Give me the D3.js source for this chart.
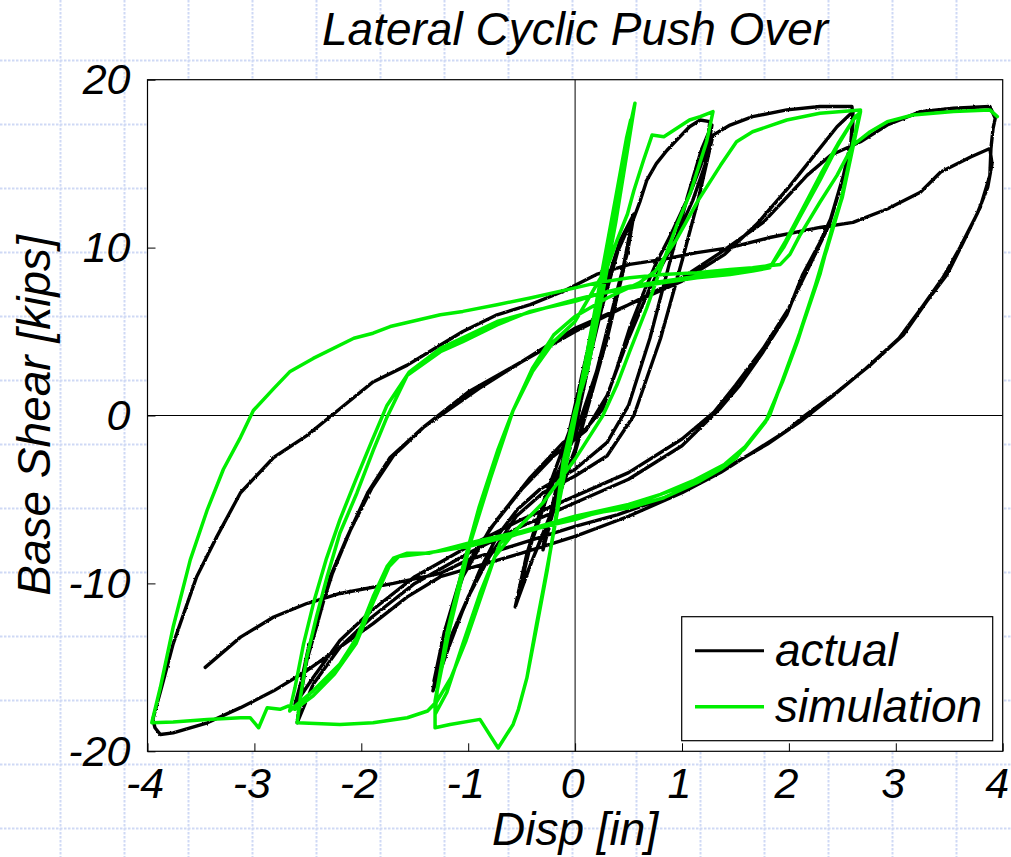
<!DOCTYPE html>
<html>
<head>
<meta charset="utf-8">
<script src="https://cdn.jsdelivr.net/npm/d3@7"></script>
<style>
  html, body { margin: 0; padding: 0; background: #fff; }
  svg { display: block; }
  text { font-family: "Liberation Sans", Arial, sans-serif; font-style: italic; fill: #000; }
</style>
</head>
<body>
<svg id="chart" width="1011" height="857"></svg>
<script>
// ---- data -------------------------------------------------------------
const xTicks = [-4, -3, -2, -1, 0, 1, 2, 3, 4];
const yTicks = [-20, -10, 0, 10, 20];
const seriesNames = ["actual", "simulation"];

// measured response: [displacement (in), base shear (kips)]
const actualPath = [
  [0,0],[0.1,3],[0.2,6],[0.3,8.8],[0.2,5.8],[0.1,2.6],[0,-0.3],[-0.1,-3],[-0.2,-5.6],[-0.3,-8],
  [-0.2,-5],[-0.1,-2.2],[0,0.6],[0.1,3.4],[0.2,6.3],[0.3,8.8],[0.2,5.4],[0.1,2.2],[0,-0.8],[-0.15,-4.2],[-0.3,-7.8],
  [-0.15,-3.6],[0,0.4],[0.15,4.4],[0.3,8],[0.42,10.4],[0.55,12],
  [0.45,8.6],[0.3,4.6],[0.15,1.2],[0,-2],[-0.15,-4.6],[-0.3,-7],[-0.45,-9.4],[-0.56,-11.4],
  [-0.45,-8.2],[-0.3,-5.2],[-0.15,-2.6],[0,0],[0.12,3],[0.25,6.4],[0.4,9.8],[0.54,11.8],
  [0.45,8.8],[0.3,4.8],[0.15,1.2],[0,-2.2],[-0.2,-5.6],[-0.4,-8.6],[-0.55,-11.2],
  [-0.42,-7.8],[-0.25,-4.6],[0,-1.2],[0.2,2.6],[0.42,8.1],[0.49,9.7],[0.54,11.6],[0.61,12.8],[0.67,14],[0.76,15],[0.86,15.8],[0.95,16.4],[1.07,17.2],[1.17,17.6],[1.26,17.5],
  [1.24,16.3],[1.2,15.3],[1.08,13.3],[0.89,10.7],[0.76,9.1],[0.64,7.3],[0.51,5.2],[0.39,2.8],[0.26,0.4],[0.1,-0.8],[-0.11,-1.6],[-0.42,-3.7],[-0.73,-6.2],[-1.05,-9.2],[-1.2,-12.4],[-1.33,-16.4],
  [-1.17,-13.6],[-1.05,-11.6],[-0.89,-9.2],[-0.73,-7.2],[-0.54,-5.6],[-0.33,-4.4],[0,-3.2],[0.3,-1.6],[0.5,0.6],[0.7,4.6],[0.88,9],[1.05,13],[1.18,15.8],[1.28,17.3],
  [1.22,15],[1.1,12.8],[0.9,10],[0.7,7.6],[0.5,4.6],[0.3,1.2],[0.1,-0.9],[-0.2,-2.4],[-0.5,-4.4],[-0.8,-6.8],[-1.05,-9.6],[-1.22,-12.8],[-1.32,-15.8],
  [-1.15,-13],[-1,-10.8],[-0.8,-8.4],[-0.55,-6],[-0.3,-4.6],[0,-3.6],[0.3,-2.4],[0.55,0],[0.8,4.6],[1,9.2],[1.15,12.8],[1.29,16.7],[1.45,17.3],[1.66,17.8],[1.98,18.2],[2.29,18.4],[2.59,18.4],
  [2.6,17.7],[2.59,16.3],[2.51,14.3],[2.39,11.7],[2.29,10.3],[2.13,8.4],[1.98,6],[1.76,3.8],[1.54,1.8],[1.36,0.45],[1,-1.8],[0.5,-3.8],[0,-5.2],[-0.5,-6.6],[-1,-8.2],[-1.5,-10],[-1.9,-12],[-2.2,-13.8],[-2.45,-16],[-2.6,-18.3],
  [-2.57,-16.8],[-2.51,-14.6],[-2.42,-12.6],[-2.29,-9.6],[-2.13,-7.2],[-1.94,-4.6],[-1.73,-2.5],[-1.42,-0.7],[-1.26,0],[-0.9,1.6],[-0.5,3.2],[0,5.2],[0.5,6.6],[1,8],[1.4,9.6],[1.7,11.4],[2,13.6],[2.25,15.6],[2.45,17.2],[2.6,18.1],
  [2.58,16.3],[2.5,14],[2.38,11.4],[2.2,9],[2,6.4],[1.76,4],[1.5,1.8],[1.3,0.2],[1,-1.4],[0.5,-3.4],[0,-4.8],[-0.5,-6.2],[-1,-7.8],[-1.5,-9.6],[-1.9,-11.6],[-2.2,-13.4],[-2.45,-15.6],[-2.62,-17.2],
  [-2.56,-15.8],[-2.5,-14],[-2.4,-12],[-2.27,-9.4],[-2.1,-6.8],[-1.9,-4.3],[-1.7,-2.4],[-1.4,-0.6],[-1,1.4],[-0.5,3.2],[0,5],[0.5,6.6],[1,8.2],[1.36,9.7],[1.76,11.5],[1.98,13],[2.17,14.3],[2.39,15.5],[2.67,16.3],[2.92,17.3],[3.23,18.1],[3.54,18.3],[3.88,18.4],
  [3.93,17.7],[3.91,17.1],[3.89,15.9],[3.88,14.3],[3.79,12.4],[3.63,10.3],[3.48,8.4],[3.29,6.8],[3.07,4.8],[2.76,3],[2.45,1.4],[2.13,-0.1],[1.98,-0.9],[1.66,-2.2],[1.36,-3.4],[1,-4.6],[0.5,-6],[0,-7.2],[-0.5,-8.2],[-1.26,-9.6],[-1.57,-10.8],[-1.89,-12.4],[-2.2,-13.8],[-2.51,-15.2],[-2.82,-16.4],[-3.13,-17.4],[-3.44,-18.3],[-3.76,-18.9],[-3.88,-19],[-3.93,-18.6],[-3.95,-18.1],
  [-3.86,-16],[-3.76,-13.6],[-3.54,-9.6],[-3.35,-7.2],[-3.13,-4.6],[-2.82,-2.5],[-2.51,-1.2],[-2.2,0.4],[-1.89,2],[-1.57,3],[-1.26,4.2],[-1.05,5],[-0.73,6],[-0.42,6.6],[-0.11,7.4],[0.2,8.4],[0.51,9],[0.82,9.3],[1.14,9.7],[1.45,10],[1.82,10.6],[2.29,11.2],[2.6,11.5],[2.92,12.3],[3.23,13.3],[3.42,14.5],[3.7,15.4],[3.88,15.9],
  [3.9,15],[3.86,13.6],[3.76,12],[3.6,10],[3.44,8.2],[3.25,6.5],[3.03,4.6],[2.72,2.8],[2.4,1.1],[2.1,-0.4],[1.8,-1.7],[1.5,-2.8],[1.2,-3.9],[0.8,-5],[0.4,-5.9],[0,-6.6],[-0.5,-7.6],[-1,-8.6],[-1.26,-9.4],[-1.7,-10],[-2.2,-10.6],[-2.51,-11.2],[-2.82,-12],[-3.13,-13.2],[-3.46,-15]
];

// numerical model response: [displacement (in), base shear (kips)]
const simulationPath = [
  [0,0],[0.12,4],[0.25,8.5],[0.38,13],[0.48,16.5],[0.52,17.6],
  [0.42,14],[0.28,9],[0.14,4.2],[0,-0.2],[-0.12,-4],[-0.24,-8.4],[-0.36,-12.4],[-0.45,-15.6],
  [-0.3,-10.4],[-0.15,-5.2],[0,-0.2],[0.15,5],[0.3,10.2],[0.45,15.4],[0.56,18.6],
  [0.5,16.2],[0.38,11.5],[0.25,7],[0.12,2.8],[0,0.3],[-0.11,-2.7],[-0.17,-5.6],[-0.26,-9.2],[-0.36,-12.6],[-0.45,-15.6],[-0.53,-17.5],[-0.58,-18.4],[-0.72,-19.8],[-0.89,-18.1],[-1.17,-18.4],[-1.31,-18.6],
  [-1.31,-17],[-1.2,-13],[-1.05,-9],[-0.9,-5.5],[-0.72,-2],[-0.58,0.3],[-0.4,2.6],[-0.2,4.4],[0,5.6],[0.23,8.1],[0.3,8.8],[0.39,10.4],[0.49,12],[0.55,13.4],[0.64,15.2],[0.72,16.7],[0.83,16.6],[1.07,17.6],[1.17,17.8],[1.29,18.1],
  [1.23,16.3],[1.08,13.3],[0.95,11.3],[0.82,9.1],[0.67,6.4],[0.51,3.8],[0.39,1.8],[0.26,0],[0,-2.6],[-0.3,-5.2],[-0.55,-6.8],[-0.7,-7.6],[-0.89,-10.6],[-1.05,-13.6],[-1.2,-16.5],[-1.31,-17.8],
  [-1.29,-16.4],[-1.17,-12.6],[-0.98,-7.6],[-0.79,-3.7],[-0.58,0.3],[-0.4,2.8],[-0.2,4.8],[0,5.9],[0.3,7],[0.6,7.9],[0.75,8.6],[0.95,10.5],[1.15,12.8],[1.36,14.9],[1.51,16.3],[1.66,16.9],[1.98,17.6],[2.29,18],[2.67,18.2],
  [2.6,16.3],[2.51,13.3],[2.41,11.3],[2.29,8.4],[2.13,5.4],[1.98,2.8],[1.82,0],[1.66,-1.3],[1.51,-2.5],[1.36,-3.2],[1.14,-4],[0.83,-4.9],[0.51,-5.5],[0.2,-5.8],[0,-6.2],[-0.42,-6.8],[-0.6,-7.2],[-0.75,-8.4],[-0.88,-10.8],[-1.02,-13.4],[-1.16,-15.6],[-1.29,-17],[-1.38,-17.6],[-1.57,-18],[-1.89,-18.3],[-2.2,-18.4],[-2.6,-18.3],
  [-2.57,-16.8],[-2.51,-14.4],[-2.42,-12],[-2.32,-9.6],[-2.2,-7],[-2.04,-4.6],[-1.89,-2.1],[-1.76,-0.1],[-1.57,2.4],[-1.26,3.8],[-1.05,4.4],[-0.73,5.4],[-0.42,6.2],[0,6.8],[0.2,7.2],[0.51,7.6],[0.82,7.9],[1.14,8.2],[1.45,8.4],[1.66,8.6],[1.82,8.8],[1.95,10],[2.1,11.8],[2.29,14],[2.45,16],[2.6,17.6],[2.67,18.1],
  [2.6,16],[2.5,13],[2.38,10.6],[2.25,7.8],[2.1,4.9],[1.96,2.4],[1.8,-0.2],[1.6,-1.8],[1.4,-2.9],[1.1,-3.9],[0.8,-4.7],[0.5,-5.3],[0,-6],[-0.5,-6.9],[-1,-7.6],[-1.36,-8.2],[-1.57,-8.2],[-1.7,-8.5],[-1.76,-9],[-1.89,-10.8],[-2.04,-13.2],[-2.2,-14.8],[-2.45,-16.4],[-2.6,-17.2],[-2.67,-17.6],
  [-2.62,-16.2],[-2.54,-13.6],[-2.44,-11],[-2.33,-8.6],[-2.2,-6.2],[-2.05,-3.8],[-1.9,-1.5],[-1.76,0.6],[-1.55,2.6],[-1.26,4],[-0.73,5.6],[0,6.9],[0.51,7.7],[1.14,8.3],[1.66,8.7],[1.84,9],[1.97,10.4],[2.12,12.2],[2.3,14.4],[2.46,16.2],[2.62,17.8],[2.66,18],
  [2.58,15.6],[2.48,12.6],[2.36,10],[2.22,7.2],[2.08,4.4],[1.94,2],[1.78,-0.4],[1.58,-2],[1.36,-3.1],[1.1,-4],[0.5,-5.4],[0,-6.1],[-0.5,-7],[-1,-7.8],[-1.4,-8.2],[-1.65,-8.4],[-1.74,-9],[-1.88,-11],[-2.05,-13.6],[-2.25,-15.4],[-2.45,-16.7],[-2.62,-17.5],
  [-2.68,-17.3],[-2.76,-17.5],[-2.88,-17.4],[-2.96,-18.6],[-3.04,-18],[-3.13,-18],[-3.44,-18.1],[-3.76,-18.25],[-3.96,-18.3],
  [-3.88,-16.2],[-3.76,-12.6],[-3.6,-8.6],[-3.44,-5.6],[-3.29,-3.2],[-3.13,-1.3],[-3.01,0.3],[-2.82,1.6],[-2.67,2.6],[-2.45,3.4],[-2.07,4.6],[-1.89,4.9],[-1.73,5.3],[-1.26,6],[-1.05,6.2],[-0.73,6.6],[-0.42,7],[0,7.6],[0.2,7.9],[0.51,8.2],[0.82,8.4],[1.14,8.5],[1.45,8.7],[1.66,8.8],[1.92,9],[2.01,9.6],[2.1,10.7],[2.29,12.7],[2.45,14.3],[2.6,16.1],[2.76,16.9],[2.92,17.5],[3.16,17.9],[3.54,18.1],[3.88,18.2],[3.95,17.8]
];

// ---- layout -----------------------------------------------------------
const W = 1011, H = 857;
const plot = { left: 147.5, right: 1002.7, top: 79.7, bottom: 751.3 };

const svg = d3.select("#chart");

const x = d3.scaleLinear().domain([-4, 4]).range([plot.left, plot.right]);
const y = d3.scaleLinear().domain([-20, 20]).range([plot.bottom, plot.top]);

// slight roughness for the measured trace
const defs = svg.append("defs");
const rough = defs.append("filter").attr("id", "rough")
  .attr("x", "-5%").attr("y", "-5%").attr("width", "110%").attr("height", "110%");
rough.append("feTurbulence").attr("type", "fractalNoise")
  .attr("baseFrequency", 0.45).attr("numOctaves", 1).attr("seed", 3).attr("result", "noise");
rough.append("feDisplacementMap").attr("in", "SourceGraphic").attr("in2", "noise")
  .attr("scale", 2.4).attr("xChannelSelector", "R").attr("yChannelSelector", "G");

// page background: light blue dotted graph-paper grid
const paper = svg.append("g").attr("class", "paper");
paper.append("rect").attr("width", W).attr("height", H).attr("fill", "#fff");
const gridStep = 64, gridStart = 60.5;
const gxs = d3.range(gridStart, W, gridStep);
const gys = d3.range(gridStart, H, gridStep);
paper.selectAll("line.gv").data(gxs).join("line")
  .attr("x1", d => d).attr("x2", d => d).attr("y1", 0).attr("y2", H)
  .attr("stroke", "#cfd9f5").attr("stroke-width", 2).attr("stroke-dasharray", "2.5,1.5");
paper.selectAll("line.gh").data(gys).join("line")
  .attr("x1", 0).attr("x2", W).attr("y1", d => d).attr("y2", d => d)
  .attr("stroke", "#cfd9f5").attr("stroke-width", 2).attr("stroke-dasharray", "2.5,1.5");

// plot area
svg.append("rect")
  .attr("x", plot.left).attr("y", plot.top)
  .attr("width", plot.right - plot.left).attr("height", plot.bottom - plot.top)
  .attr("fill", "#fff");

// zero lines
svg.append("line")
  .attr("x1", x(0)).attr("x2", x(0)).attr("y1", plot.top).attr("y2", plot.bottom)
  .attr("stroke", "#000").attr("stroke-width", 1);
svg.append("line")
  .attr("x1", plot.left).attr("x2", plot.right).attr("y1", y(0)).attr("y2", y(0))
  .attr("stroke", "#000").attr("stroke-width", 1);

// curves
const line = d3.line().x(d => x(d[0])).y(d => y(d[1]));
defs.append("clipPath").attr("id", "plotClip").append("rect")
  .attr("x", plot.left).attr("y", plot.top)
  .attr("width", plot.right - plot.left).attr("height", plot.bottom - plot.top);

const curves = svg.append("g").attr("clip-path", "url(#plotClip)");
curves.append("path").datum(actualPath)
  .attr("d", line).attr("fill", "none")
  .attr("stroke", "#000").attr("stroke-width", 3.4)
  .attr("stroke-linejoin", "round").attr("stroke-linecap", "round")
  .attr("filter", "url(#rough)");
curves.append("path").datum(simulationPath)
  .attr("d", line).attr("fill", "none")
  .attr("stroke", "#00ee00").attr("stroke-width", 3.5)
  .attr("stroke-linejoin", "round").attr("stroke-linecap", "round");

// axes (ticks point inward)
const fmt = d => String(d);
const xAxis = svg.append("g").attr("transform", `translate(0,${plot.bottom})`)
  .call(d3.axisBottom(x).tickValues(xTicks).tickFormat(fmt).tickSize(-8).tickPadding(16));
const yAxis = svg.append("g").attr("transform", `translate(${plot.left},0)`)
  .call(d3.axisLeft(y).tickValues(yTicks).tickFormat(fmt).tickSize(-8).tickPadding(17));
[xAxis, yAxis].forEach(g => {
  g.select(".domain").remove();
  g.selectAll(".tick line").attr("stroke", "#000").attr("stroke-width", 1);
  g.selectAll(".tick text")
    .attr("font-family", "Liberation Sans, Arial, sans-serif")
    .attr("font-style", "italic").attr("font-size", 43).attr("fill", "#000");
});
// last x label kept inside the page
xAxis.selectAll(".tick text").filter(d => d === 4).attr("text-anchor", "end").attr("x", 9);
xAxis.selectAll(".tick text").attr("dx", -3);

// frame
svg.append("rect")
  .attr("x", plot.left).attr("y", plot.top)
  .attr("width", plot.right - plot.left).attr("height", plot.bottom - plot.top)
  .attr("fill", "none").attr("stroke", "#000").attr("stroke-width", 1.2);

// titles
svg.append("text").attr("x", (plot.left + plot.right) / 2).attr("y", 45)
  .attr("text-anchor", "middle").attr("font-size", 46).text("Lateral Cyclic Push Over");
svg.append("text").attr("x", (plot.left + plot.right) / 2).attr("y", 845)
  .attr("text-anchor", "middle").attr("font-size", 46).text("Disp [in]");
svg.append("text")
  .attr("transform", `translate(50,${(plot.top + plot.bottom) / 2}) rotate(-90)`)
  .attr("text-anchor", "middle").attr("font-size", 46).text("Base Shear [kips]");

// legend
const lg = svg.append("g");
lg.append("rect").attr("x", 681.7).attr("y", 616.7).attr("width", 311).attr("height", 124)
  .attr("fill", "#fff").attr("stroke", "#000").attr("stroke-width", 1.2);
const legendColors = ["#000", "#00ee00"];
seriesNames.forEach((name, i) => {
  const ly = 650.7 + i * 56;
  lg.append("line").attr("x1", 695).attr("x2", 764).attr("y1", ly).attr("y2", ly)
    .attr("stroke", legendColors[i]).attr("stroke-width", i ? 3.5 : 3);
  lg.append("text").attr("x", 775).attr("y", ly + 15).attr("font-size", 46).text(name);
});
</script>
</body>
</html>
